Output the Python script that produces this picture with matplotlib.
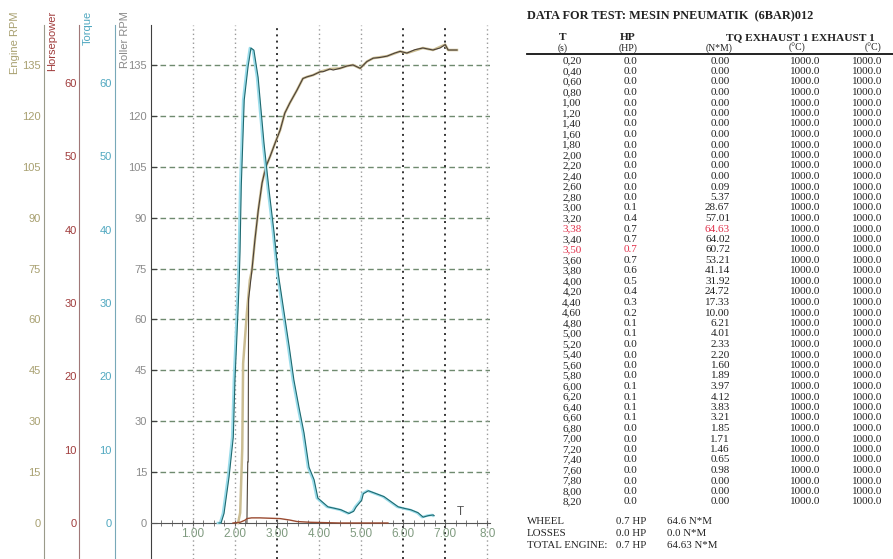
import matplotlib
matplotlib.use("Agg")
import matplotlib.pyplot as plt
from matplotlib import transforms
from matplotlib.ticker import FixedLocator, MultipleLocator

# curves (x = chart time axis)
roller_x = [2.29, 2.31, 2.32, 2.33, 2.41, 2.48, 2.56, 2.65, 2.74, 2.84, 2.96, 3.08, 3.19, 3.31,
            3.48, 3.62, 3.72, 3.86, 4.03, 4.10, 4.26, 4.34, 4.50, 4.67, 4.81, 4.98, 5.14, 5.29,
            5.45, 5.62, 5.80, 5.93, 6.09, 6.28, 6.47, 6.71, 6.88, 7.00, 7.07, 7.28]
roller_rpm = [0, 18, 18, 66, 74.6, 83.4, 92.2, 100.2, 105, 108, 112, 115.8, 120.8, 123.8,
              127.6, 131, 131.5, 132, 133, 133, 133.8, 133.5, 134, 134.7, 135, 134, 136, 137,
              137.2, 137.6, 138.5, 139, 138.5, 139.5, 140, 139.4, 140, 141, 139.4, 139.4]

engine_x = [2.08, 2.13, 2.18, 2.20, 2.29, 2.36, 2.41, 2.48, 2.56, 2.65, 2.74, 2.84, 2.96, 3.08,
            3.19, 3.31, 3.48, 3.62, 3.72, 3.86, 4.03, 4.26, 4.50, 4.67, 4.81, 4.98, 5.14, 5.29,
            5.62, 5.93, 6.09, 6.47, 6.71, 7.00, 7.07, 7.28]
engine_rpm = [0, 3, 22, 47, 62, 71.6, 74.6, 83.4, 92.2, 100.2, 105, 108, 112, 115.8,
              120.8, 123.8, 127.6, 131, 131.5, 132, 133, 133.8, 134, 134.7, 135, 134, 136, 137,
              137.6, 139, 138.5, 140, 139.4, 141, 139.4, 139.4]

torque_x = [1.60, 1.65, 1.72, 1.84, 1.94, 1.98, 2.05, 2.08, 2.10, 2.13, 2.20, 2.29, 2.36, 2.43,
            2.53, 2.60, 2.67, 2.79, 2.91, 3.00, 3.03, 3.15, 3.27, 3.38, 3.50, 3.62, 3.74, 3.86,
            3.95, 4.07, 4.19, 4.35, 4.50, 4.69, 4.80, 4.86, 4.99, 5.03, 5.15, 5.29, 5.52, 5.69,
            5.86, 6.00, 6.16, 6.33, 6.45, 6.57, 6.69, 6.71]
torque_nm = [0, 0, 1.3, 6.3, 11.7, 19.5, 28.6, 33, 37, 46, 57.7, 62.2, 64.8, 64.5,
             60.8, 56.3, 51.8, 45.4, 39.6, 34.5, 33.2, 28.6, 24, 19.5, 15.8, 12.3, 7.6, 5.9,
             3.4, 2.8, 2.2, 2.0, 1.8, 1.3, 1.6, 2.2, 3.1, 4.0, 4.4, 4.1, 3.6, 2.9,
             2.2, 2.0, 1.8, 1.4, 0.8, 1.0, 1.1, 1.0]

hp_x = [1.96, 2.13, 2.25, 2.29, 2.40, 2.60, 3.08, 3.31, 3.48, 3.79, 4.14, 4.50, 5.64]
hp_val = [0.0, 0.1, 0.4, 0.6, 0.7, 0.7, 0.6, 0.4, 0.2, 0.1, 0.05, 0.0, 0.0]

rpm_ticks = [0, 15, 30, 45, 60, 75, 90, 105, 120, 135]
hp_ticks = [0, 10, 20, 30, 40, 50, 60]
x_ticks = [1, 2, 3, 4, 5, 6, 7, 8]
x_labels = ["1.00", "2.00", "3.00", "4.00", "5.00", "6.00", "7.00", "8.0"]

# table on the right
table_t = [0.20, 0.40, 0.60, 0.80, 1.00, 1.20, 1.40, 1.60, 1.80, 2.00, 2.20, 2.40, 2.60, 2.80,
           3.00, 3.20, 3.38, 3.40, 3.50, 3.60, 3.80, 4.00, 4.20, 4.40, 4.60, 4.80, 5.00, 5.20,
           5.40, 5.60, 5.80, 6.00, 6.20, 6.40, 6.60, 6.80, 7.00, 7.20, 7.40, 7.60, 7.80, 8.00, 8.20]
table_hp = [0.0] * 14 + [0.1, 0.4, 0.7, 0.7, 0.7, 0.7, 0.6, 0.5, 0.4, 0.3, 0.2, 0.1, 0.1, 0.0,
            0.0, 0.0, 0.0, 0.1, 0.1, 0.1, 0.1, 0.0, 0.0, 0.0, 0.0, 0.0, 0.0, 0.0, 0.0]
table_tq = [0.00] * 12 + [0.09, 5.37, 28.67, 57.01, 64.63, 64.02, 60.72, 53.21, 41.14, 31.92,
            24.72, 17.33, 10.00, 6.21, 4.01, 2.33, 2.20, 1.60, 1.89, 3.97, 4.12, 3.83, 3.21,
            1.85, 1.71, 1.46, 0.65, 0.98, 0.00, 0.00, 0.00]
table_ex1 = [1000.0] * 43
table_ex2 = [1000.0] * 43
summary = [("WHEEL", "0.7 HP", "64.6 N*M"),
           ("LOSSES", "0.0 HP", "0.0 N*M"),
           ("TOTAL ENGINE:", "0.7 HP", "64.63 N*M")]

W, H = 893, 559
fx = lambda px: px / W
fy = lambda py: 1 - py / H

plt.rcParams["font.family"] = ["Liberation Sans", "DejaVu Sans"]
fig = plt.figure(figsize=(W / 100, H / 100), dpi=100)

ax = fig.add_axes([fx(150.5), 0, (490 - 150.5) / W, (559 - 25) / H])
ax.set_xlim(0, (490 - 150.5) / 42.1)
rpm_lim = (-36 / 3.393, 498 / 3.393)
hp_lim = (-36 / 7.33, 498 / 7.33)
ax.set_ylim(rpm_lim)
ax.patch.set_alpha(0)

for s in ["top", "right"]:
    ax.spines[s].set_visible(False)
ax.spines["bottom"].set_position(("data", 0))
ax.spines["bottom"].set_color("#555555")
ax.spines["left"].set_color("#404040")

ax.yaxis.set_major_locator(FixedLocator(rpm_ticks))
ax.tick_params(axis="y", direction="in", length=4, pad=2.5, labelsize=8,
               labelcolor="#8a8a8a", color="#404040")
ax.xaxis.set_major_locator(FixedLocator(x_ticks))
ax.set_xticklabels(x_labels)
ax.xaxis.set_minor_locator(MultipleLocator(0.25))
ax.tick_params(axis="x", which="both", direction="inout", length=4, pad=1.5,
               labelsize=8.5, labelcolor="#7f9a7f", color="#666666")

# grid
for v in rpm_ticks[1:]:
    ax.axhline(v, color="#6f8a6f", ls=(0, (4, 2.5)), lw=1.0, zorder=0)
for v in x_ticks:
    dark = v in (3, 6, 7)
    ax.axvline(v, color="#333333" if dark else "#999999", ls=(0, (1, 2.2)),
               lw=1.4 if dark else 1.0, zorder=0)


def side_axis(pos_px, lim, ticks, lab_col, spine_col, pad):
    a = ax.twinx()
    a.set_ylim(lim)
    for s in ["top", "right", "bottom"]:
        a.spines[s].set_visible(False)
    a.spines["left"].set_position(("axes", (pos_px - 150.5) / 339.5))
    a.spines["left"].set_color(spine_col)
    a.yaxis.set_ticks_position("left")
    a.yaxis.set_major_locator(FixedLocator(ticks))
    a.tick_params(axis="y", length=0, pad=pad, labelsize=8, labelcolor=lab_col)
    return a


eng = side_axis(44, rpm_lim, rpm_ticks, "#a8a070", "#9a9a8a", 2.5)
hpax = side_axis(79, hp_lim, hp_ticks, "#a03c3c", "#a07878", 1.5)
tqax = side_axis(115, hp_lim, hp_ticks, "#50a8c0", "#78a8b8", 2.2)

# curves
tqax.plot(torque_x, torque_nm, color="#9adcea", lw=1.8)
shift = transforms.offset_copy(tqax.transData, fig=fig, x=0.8, y=0, units="points")
tqax.plot(torque_x, torque_nm, color="#1f6a70", lw=0.8, transform=shift)
hpax.plot(hp_x, hp_val, color="#9a4a30", lw=1.0)
eng.plot(engine_x, engine_rpm, color="#cbbd92", lw=1.8)
eng.plot(roller_x, roller_rpm, color="#4a4038", lw=0.8)
eng.text(7.35, 1.5, "T", fontsize=8.5, color="#555555", ha="center", va="bottom")

# axis titles
for px, label, col in [(15, "Engine RPM", "#a8a070"), (52, "Horsepower", "#a03c3c"),
                       (88, "Torque", "#50a8c0"), (125, "Roller RPM", "#8a8a8a")]:
    fig.text(fx(px), fy(11), label, rotation=90, ha="center", va="top",
             fontsize=8, color=col)

# table
serif = ["Liberation Serif", "DejaVu Serif"]
tcol = "#222222"
red = "#e0304a"
fig.text(fx(527), fy(16), "DATA FOR TEST: MESIN PNEUMATIK  (6BAR)012", family=serif,
         fontsize=8.8, fontweight="bold", color=tcol, va="center")
heads1 = [(563, "T"), (628, "HP"), (800, "TQ EXHAUST 1 EXHAUST 1")]
for px, s in heads1:
    fig.text(fx(px), fy(37.5), s, family=serif, fontsize=8.2, fontweight="bold",
             color=tcol, ha="center", va="center")
heads2 = [(563, "(s)"), (628, "(HP)"), (719, "(N*M)"), (797, "(°C)"), (873, "(°C)")]
for px, s in heads2:
    fig.text(fx(px), fy(48), s, family=serif, fontsize=7.0, color=tcol,
             ha="center", va="center")
fig.add_artist(plt.Line2D([fx(527), fx(893)], [fy(53.5), fy(53.5)], color="#111111", lw=1.3))

fs = 8.0
for i, t in enumerate(table_t):
    y = fy(63.5 + i * 10.5)
    c_t = red if t in (3.38, 3.50) else tcol
    c_hp = red if t == 3.50 else tcol
    c_tq = red if t == 3.38 else tcol
    fig.text(fx(572), y, f"{t:.2f}".replace(".", ","), family=serif, fontsize=fs,
             color=c_t, ha="center", va="baseline")
    fig.text(fx(631), y, f"{table_hp[i]:.1f}", family=serif, fontsize=fs,
             color=c_hp, ha="center", va="baseline")
    fig.text(fx(730), y, f"{table_tq[i]:.2f}", family=serif, fontsize=fs,
             color=c_tq, ha="right", va="baseline")
    fig.text(fx(820), y, f"{table_ex1[i]:.1f}", family=serif, fontsize=fs,
             color=tcol, ha="right", va="baseline")
    fig.text(fx(882), y, f"{table_ex2[i]:.1f}", family=serif, fontsize=fs,
             color=tcol, ha="right", va="baseline")

for j, (a, b, c) in enumerate(summary):
    y = fy(522 + j * 11.5)
    fig.text(fx(527), y, a, family=serif, fontsize=7.8, color=tcol, va="center")
    fig.text(fx(616), y, b, family=serif, fontsize=7.8, color=tcol, va="center")
    fig.text(fx(667), y, c, family=serif, fontsize=7.8, color=tcol, va="center")

fig.savefig("out.png", dpi=100)
